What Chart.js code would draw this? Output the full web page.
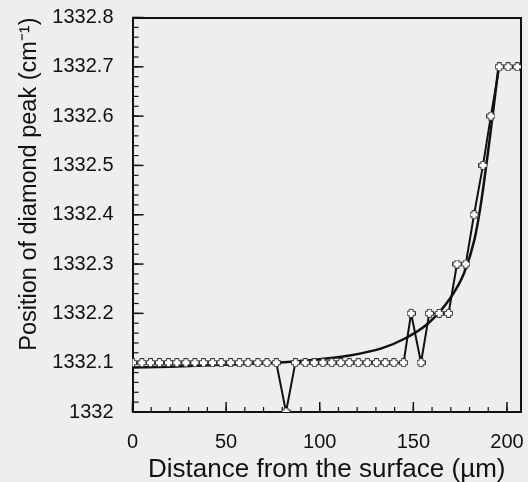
<!DOCTYPE html>
<html>
<head>
<meta charset="utf-8">
<script src="https://cdn.jsdelivr.net/npm/chart.js@4/dist/chart.umd.min.js"></script>
<style>
  html, body { margin: 0; padding: 0; background: #eeeeec; }
  #wrap { width: 528px; height: 482px; }
</style>
</head>
<body>
<div id="wrap"><canvas id="myChart"></canvas></div>
<script>
// measured points (distance in um, peak position in cm-1)
const depth = [0, 5.0, 9.6, 14.4, 19.2, 23.7, 28.5, 33.3, 37.9, 42.7, 47.4, 52.4, 57.1, 61.7, 66.9, 71.8, 76.8,
  82.0,
  87.0, 92.3, 97.1, 101.7, 106.4, 111.2, 115.8, 120.6, 125.4, 130.3, 135.0, 139.6, 144.8,
  148.8, 154.1, 158.5, 163.8, 168.8, 173.3, 178.0, 182.4, 187.2, 191.4, 195.9, 200.6, 205.5];
const peak = [1332.1, 1332.1, 1332.1, 1332.1, 1332.1, 1332.1, 1332.1, 1332.1, 1332.1, 1332.1, 1332.1, 1332.1, 1332.1, 1332.1, 1332.1, 1332.1, 1332.1,
  1332.0,
  1332.1, 1332.1, 1332.1, 1332.1, 1332.1, 1332.1, 1332.1, 1332.1, 1332.1, 1332.1, 1332.1, 1332.1, 1332.1,
  1332.2, 1332.1, 1332.2, 1332.2, 1332.2, 1332.3, 1332.3, 1332.4, 1332.5, 1332.6, 1332.7, 1332.7, 1332.7];

// smooth fitted curve
const fitDepth = [0, 20, 50, 77, 85, 100, 115, 133, 145, 158, 169, 177, 182.6, 186, 191.4, 195.5];
const fitPeak = [1332.09, 1332.092, 1332.096, 1332.1, 1332.102, 1332.107, 1332.114, 1332.129, 1332.148, 1332.18, 1332.227, 1332.281, 1332.349, 1332.42, 1332.572, 1332.70];

// axis ticks
const xTicks = [0, 50, 100, 150, 200];
const yTicks = [1332, 1332.1, 1332.2, 1332.3, 1332.4, 1332.5, 1332.6, 1332.7, 1332.8];
const xMinorStep = 10, yMinorStep = 0.02;

const xMin = 0, xMax = 207.5;
const yMin = 1332, yMax = 1332.8;
const ink = '#111111';
const fontFamily = "'Liberation Sans', Arial, sans-serif";
const tickLen = { x: 10, xMinor: 5, y: 11, yMinor: 6 }; // inward tick marks

function makeCross(){ // hollow plus marker
  const c = document.createElement('canvas');
  c.width = 9; c.height = 9;
  const g = c.getContext('2d');
  g.beginPath();
  g.moveTo(2.5, 0.5); g.lineTo(6.5, 0.5); g.lineTo(6.5, 2.5); g.lineTo(8.5, 2.5); g.lineTo(8.5, 6.5);
  g.lineTo(6.5, 6.5); g.lineTo(6.5, 8.5); g.lineTo(2.5, 8.5); g.lineTo(2.5, 6.5); g.lineTo(0.5, 6.5);
  g.lineTo(0.5, 2.5); g.lineTo(2.5, 2.5); g.closePath();
  g.fillStyle = '#ffffff'; g.fill();
  g.strokeStyle = '#333333'; g.lineWidth = 1; g.stroke();
  return c;
}

function useTicks(values){
  return function(scale){ scale.ticks = values.map(v => ({value: v})); };
}

function minorTicks(step){
  return function(scale){
    const out = [];
    const n = Math.floor((scale.max - scale.min) / step + 1e-6);
    for (let i = 0; i <= n; i++) out.push({value: scale.min + i * step});
    scale.ticks = out;
  };
}

function fixSize(w, h){ // fixed axis box, no extra label padding
  return function(s){
    if (w !== null) s.width = w;
    if (h !== null) s.height = h;
    s.paddingTop = 0; s.paddingBottom = 0; s.paddingLeft = 0; s.paddingRight = 0;
  };
}

const innerTicks = {
  id: 'innerTicks',
  beforeDatasetsDraw(chart){
    const ctx = chart.ctx, area = chart.chartArea;
    ctx.save();
    ctx.strokeStyle = ink;
    Object.keys(tickLen).forEach(id => {
      const s = chart.scales[id];
      ctx.lineWidth = id.endsWith('Minor') ? 1.2 : 1.5;
      s.ticks.forEach(t => {
        const p = s.getPixelForValue(t.value);
        ctx.beginPath();
        if (s.isHorizontal()){
          ctx.moveTo(p, area.bottom); ctx.lineTo(p, area.bottom - tickLen[id]);
        } else {
          ctx.moveTo(area.left, p); ctx.lineTo(area.left + tickLen[id], p);
        }
        ctx.stroke();
      });
    });
    ctx.restore();
  }
};

Chart.defaults.font.family = fontFamily;
Chart.defaults.color = ink;

const data = {
  datasets: [{
    label: 'measured',
    data: depth.map((d, i) => ({x: d, y: peak[i]})),
    borderColor: ink,
    borderWidth: 2,
    pointStyle: makeCross(),
    pointRadius: 5,
    tension: 0,
    xAxisID: 'x', yAxisID: 'y'
  }, {
    label: 'fit',
    data: fitDepth.map((d, i) => ({x: d, y: fitPeak[i]})),
    borderColor: ink,
    borderWidth: 2.5,
    pointRadius: 0,
    cubicInterpolationMode: 'monotone',
    xAxisID: 'x', yAxisID: 'y'
  }]
};

const noTicks = { drawOnChartArea: false, drawTicks: false };

const config = {
  type: 'line',
  data: data,
  plugins: [innerTicks],
  options: {
    responsive: true,
    maintainAspectRatio: false,
    animation: false,
    layout: { padding: { top: 17.5, right: 4, left: 0, bottom: 0 } },
    plugins: { legend: { display: false }, tooltip: { enabled: false } },
    scales: {
      x: {
        type: 'linear', position: 'bottom', min: xMin, max: xMax, weight: 1,
        ticks: { padding: 18, maxRotation: 0, autoSkip: false, font: { size: 20 }, color: ink },
        afterBuildTicks: useTicks(xTicks),
        grid: noTicks,
        border: { color: ink, width: 2 },
        title: { display: true, text: 'Distance from the surface (\u00B5m)', color: ink,
          font: { size: 26, lineHeight: 1 }, padding: { top: 0, bottom: -1 } },
        afterFit: fixSize(null, 70)
      },
      xMinor: {
        type: 'linear', position: 'bottom', min: xMin, max: xMax, weight: 0,
        ticks: { display: false },
        afterBuildTicks: minorTicks(xMinorStep),
        grid: noTicks,
        border: { display: false },
        afterFit: fixSize(null, 0)
      },
      xTop: {
        type: 'linear', position: 'top', min: xMin, max: xMax,
        ticks: { display: false },
        grid: noTicks,
        border: { color: ink, width: 2 },
        afterFit: fixSize(null, 0)
      },
      y: {
        type: 'linear', position: 'left', min: yMin, max: yMax, weight: 1,
        ticks: { padding: 19, autoSkip: false, font: { size: 20 }, color: ink,
          callback: v => Number(v.toFixed(1)).toString() },
        afterBuildTicks: useTicks(yTicks),
        grid: noTicks,
        border: { color: ink, width: 2 },
        title: { display: true, text: 'Position of diamond peak (cm\u207B\u00B9)', align: 'end', color: ink,
          font: { size: 23.5 }, padding: { top: 15, bottom: 0 } },
        afterFit: fixSize(132.5, null)
      },
      yMinor: {
        type: 'linear', position: 'left', min: yMin, max: yMax, weight: 0,
        ticks: { display: false },
        afterBuildTicks: minorTicks(yMinorStep),
        grid: noTicks,
        border: { display: false },
        afterFit: fixSize(0, null)
      },
      yRight: {
        type: 'linear', position: 'right', min: yMin, max: yMax,
        ticks: { display: false },
        grid: noTicks,
        border: { color: ink, width: 2 },
        afterFit: fixSize(0, null)
      }
    }
  }
};

const chart = new Chart(document.getElementById('myChart'), config);
</script>
</body>
</html>
